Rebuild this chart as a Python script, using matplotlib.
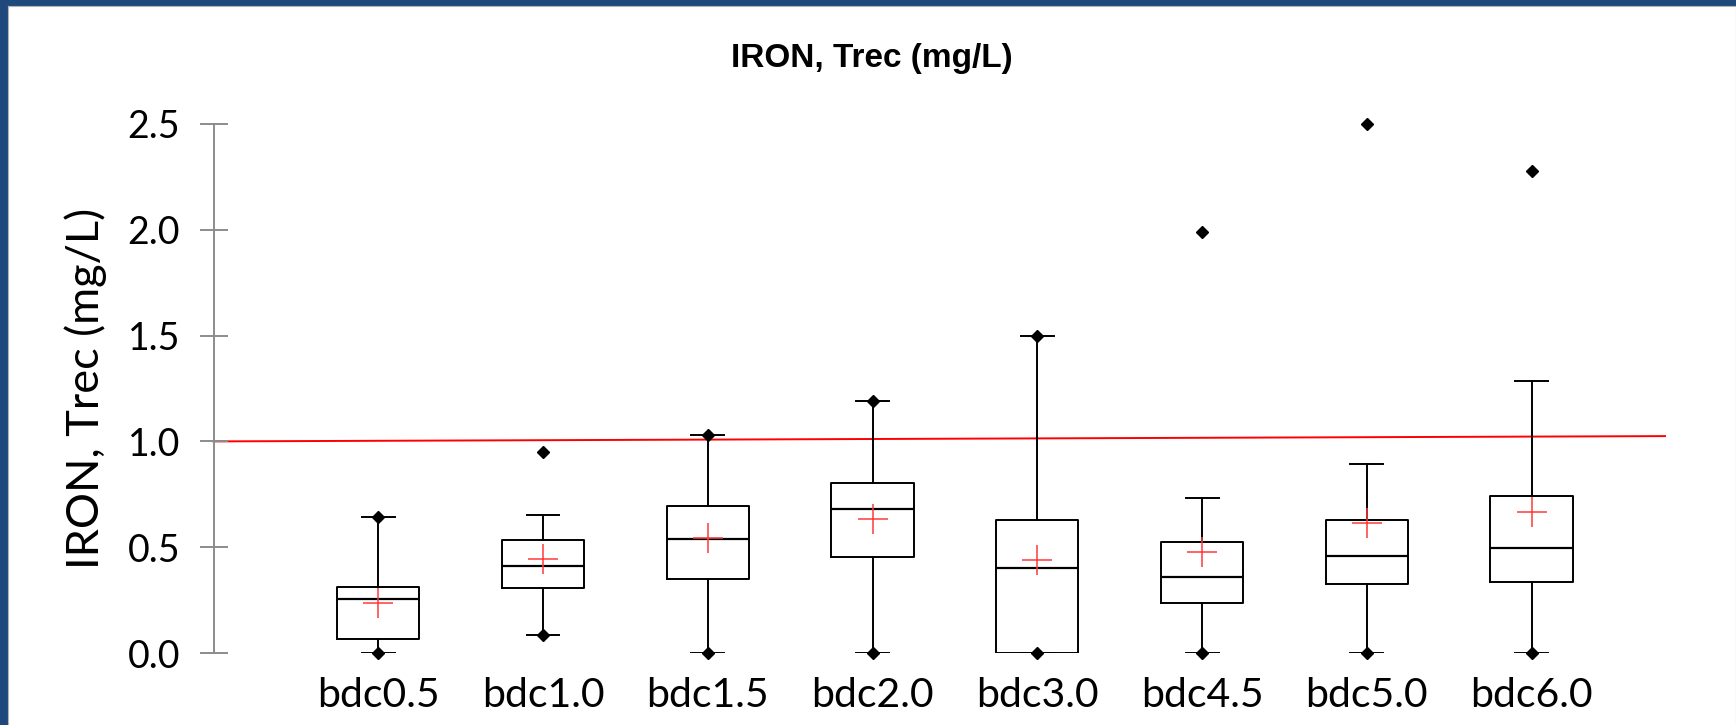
import matplotlib
matplotlib.use("Agg")
import matplotlib.pyplot as plt
from matplotlib.patches import Rectangle

# values (mg/L)
groups = ["bdc0.5", "bdc1.0", "bdc1.5", "bdc2.0", "bdc3.0", "bdc4.5", "bdc5.0", "bdc6.0"]
q1 = [0.066, 0.307, 0.350, 0.455, 0.000, 0.235, 0.325, 0.334]
median = [0.255, 0.413, 0.541, 0.679, 0.400, 0.360, 0.460, 0.497]
q3 = [0.313, 0.533, 0.696, 0.803, 0.630, 0.526, 0.628, 0.742]
whisk_lo = [0.000, 0.085, 0.000, 0.000, 0.000, 0.000, 0.000, 0.000]
whisk_hi = [0.643, 0.654, 1.032, 1.192, 1.500, 0.733, 0.895, 1.286]
means = [0.235, 0.444, 0.543, 0.633, 0.438, 0.475, 0.614, 0.667]
minima = [0.000, 0.085, 0.000, 0.000, 0.000, 0.000, 0.000, 0.000]
maxima = [0.643, 0.951, 1.032, 1.192, 1.500, 1.990, 2.500, 2.280]

# red reference line (slightly sloped in the original)
limit_x = [0.0, 8.81]
limit_y = [1.0, 1.025]

yticks = [0.0, 0.5, 1.0, 1.5, 2.0, 2.5]

W, H = 1736, 725
fig = plt.figure(figsize=(W / 100, H / 100), dpi=100)

# slide frame: blue band on the left and top, thin grey inner line
fig.patches.append(Rectangle((0, 0), 7 / W, 1, transform=fig.transFigure,
                             color="#1f497d", zorder=0))
fig.patches.append(Rectangle((0, 1 - 5 / H), 1, 5 / H, transform=fig.transFigure,
                             color="#1f497d", zorder=0))
fig.lines.append(plt.Line2D([7.5 / W, 7.5 / W], [0, 1 - 5.5 / H], transform=fig.transFigure,
                            color="#b4b4b4", lw=0.8))
fig.lines.append(plt.Line2D([7.5 / W, 1], [1 - 5.5 / H, 1 - 5.5 / H], transform=fig.transFigure,
                            color="#b4b4b4", lw=0.8))
fig.lines.append(plt.Line2D([1735.5 / W, 1735.5 / W], [0, 1 - 5.5 / H], transform=fig.transFigure,
                            color="#b4b4b4", lw=0.8))

left, right = 213.5 / W, 1665 / W
bottom, top = (H - 653) / H, (H - 124) / H
ax = fig.add_axes([left, bottom, right - left, top - bottom])

positions = list(range(1, len(groups) + 1))
stats = []
for i in range(len(groups)):
    stats.append({"med": median[i], "q1": q1[i], "q3": q3[i],
                  "whislo": whisk_lo[i], "whishi": whisk_hi[i],
                  "mean": means[i], "fliers": []})

ax.plot(limit_x, limit_y, color="red", lw=1.4, zorder=1, clip_on=False)

ax.bxp(stats, positions=positions, widths=0.5, capwidths=0.2,
       showmeans=True, showfliers=False,
       boxprops=dict(color="black", lw=1.4),
       medianprops=dict(color="black", lw=1.6),
       whiskerprops=dict(color="black", lw=1.4),
       capprops=dict(color="black", lw=1.4),
       meanprops=dict(marker="+", markeredgecolor="#ff3b3b", markersize=22,
                      markeredgewidth=1.1))

ax.plot(positions, minima, ls="none", marker="D", ms=6, color="black", clip_on=False, zorder=4)
ax.plot(positions, maxima, ls="none", marker="D", ms=6, color="black", clip_on=False, zorder=4)

ax.set_xlim(0, 8.81)
ax.set_ylim(0, 2.5)

for side in ["top", "right", "bottom"]:
    ax.spines[side].set_visible(False)
ax.spines["left"].set_color("#8c8c8c")
ax.spines["left"].set_linewidth(1.4)

ax.set_yticks(yticks)
ax.set_yticklabels([f"{v:.1f}" for v in yticks], fontsize=27, family="Lato")
ax.tick_params(axis="y", direction="inout", length=20, width=1.4, color="#8c8c8c", pad=14)

ax.set_xticks(positions)
ax.set_xticklabels(groups, fontsize=29.5, family="Lato")
ax.tick_params(axis="x", length=0, pad=17)

ax.set_ylabel("IRON, Trec (mg/L)", fontsize=32.5, family="Lato", labelpad=15)

fig.text(871.7 / W, 1 - 66.7 / H, "IRON, Trec (mg/L)", ha="center", va="baseline",
         fontsize=24, fontweight="bold", family="Liberation Sans")

fig.savefig("out.png", dpi=100)
